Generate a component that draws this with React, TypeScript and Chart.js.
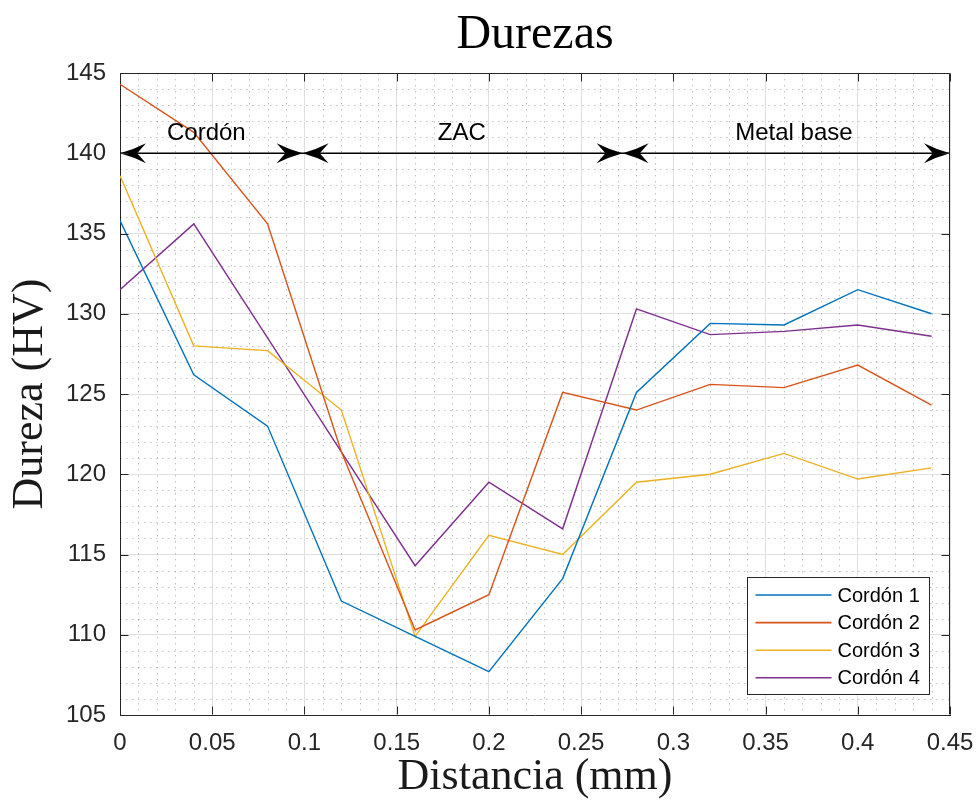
import React, { useEffect, useRef } from "react";
import { Chart, registerables } from "chart.js";

Chart.register(...registerables);

// ---- data ----
const distancia = [0, 0.04, 0.08, 0.12, 0.16, 0.2, 0.24, 0.28, 0.32, 0.36, 0.4, 0.44];
const cordon1 = [135.8, 126.2, 123.0, 112.1, 109.9, 107.7, 113.5, 125.1, 129.4, 129.3, 131.5, 130.0];
const cordon2 = [144.3, 141.3, 135.6, 121.4, 110.3, 112.5, 125.1, 124.0, 125.6, 125.4, 126.8, 124.3];
const cordon3 = [138.6, 128.0, 127.7, 124.0, 109.9, 116.2, 115.0, 119.5, 120.0, 121.3, 119.7, 120.4];
const cordon4 = [131.5, 135.6, 128.5, 121.4, 114.3, 119.5, 116.6, 130.3, 128.7, 128.9, 129.3, 128.6];
const seriesLabels = ["Cordón 1", "Cordón 2", "Cordón 3", "Cordón 4"];
const seriesColors = ["#0072BD", "#D95319", "#EDB120", "#7E2F8E"];

// zone annotation (data units)
const zoneLabels = ["Cordón", "ZAC", "Metal base"];
const zoneLabelX = [0.0468, 0.1853, 0.3654];
const zoneLabelY = 140.85;
const zoneBounds = [0, 0.099, 0.2725, 0.45];
const zoneArrowY = 140;

const titleText = "Durezas";
const xTitle = "Distancia (mm)";
const yTitle = "Dureza (HV)";

const SANS = "'Liberation Sans', Arial, Helvetica, sans-serif";
const SERIF = "'Liberation Serif', 'Times New Roman', serif";
const AXIS = "#262626";

function drawHead(ctx: CanvasRenderingContext2D, tx: number, ty: number, dir: number) {
  const L = 26;
  const W = 10;
  ctx.beginPath();
  ctx.moveTo(tx, ty);
  ctx.quadraticCurveTo(tx - dir * L * 0.5, ty - W * 0.35, tx - dir * L, ty - W);
  ctx.lineTo(tx - dir * L * 0.66, ty);
  ctx.lineTo(tx - dir * L, ty + W);
  ctx.quadraticCurveTo(tx - dir * L * 0.5, ty + W * 0.35, tx, ty);
  ctx.closePath();
  ctx.fill();
}

const decorPlugin = {
  id: "decor",
  beforeDatasetsDraw(chart: any) {
    const { ctx, chartArea: a, scales } = chart;
    const x = scales.x;
    const y = scales.y;
    ctx.save();
    ctx.beginPath();
    ctx.rect(a.left, a.top, a.right - a.left, a.bottom - a.top);
    ctx.clip();
    ctx.strokeStyle = "rgba(0,0,0,0.24)";
    ctx.lineWidth = 1;
    ctx.setLineDash([1.5, 4.5]);
    for (let i = 1; i < 45; i++) {
      if (i % 5 === 0) continue;
      const px = Math.round(x.getPixelForValue(i / 100)) + 0.5;
      ctx.beginPath();
      ctx.moveTo(px, a.top);
      ctx.lineTo(px, a.bottom);
      ctx.stroke();
    }
    for (let v = 106; v < 145; v++) {
      if (v % 5 === 0) continue;
      const py = Math.round(y.getPixelForValue(v)) + 0.5;
      ctx.beginPath();
      ctx.moveTo(a.left, py);
      ctx.lineTo(a.right, py);
      ctx.stroke();
    }
    ctx.restore();
  },
  afterDatasetsDraw(chart: any) {
    const { ctx, chartArea: a, scales } = chart;
    const x = scales.x;
    const y = scales.y;
    ctx.save();

    // zone arrows
    const ay = y.getPixelForValue(zoneArrowY);
    ctx.strokeStyle = "#000";
    ctx.fillStyle = "#000";
    ctx.lineWidth = 1.5;
    ctx.beginPath();
    ctx.moveTo(x.getPixelForValue(zoneBounds[0]), ay);
    ctx.lineTo(x.getPixelForValue(zoneBounds[zoneBounds.length - 1]), ay);
    ctx.stroke();
    for (let i = 0; i < zoneBounds.length - 1; i++) {
      const p0 = x.getPixelForValue(zoneBounds[i]);
      const p1 = x.getPixelForValue(zoneBounds[i + 1]);
      drawHead(ctx, p0, ay, -1);
      drawHead(ctx, p1, ay, 1);
    }
    ctx.font = `24px ${SANS}`;
    ctx.textAlign = "center";
    ctx.textBaseline = "alphabetic";
    ctx.fillStyle = "#000";
    zoneLabels.forEach((t, i) => {
      ctx.fillText(t, x.getPixelForValue(zoneLabelX[i]), y.getPixelForValue(zoneLabelY));
    });

    // box top/right
    ctx.strokeStyle = AXIS;
    ctx.lineWidth = 1;
    const L = Math.round(a.left) + 0.5;
    const R = Math.round(a.right) - 0.5;
    const T = Math.round(a.top) + 0.5;
    const B = Math.round(a.bottom) - 0.5;
    ctx.beginPath();
    ctx.moveTo(L, T);
    ctx.lineTo(R, T);
    ctx.lineTo(R, B);
    ctx.stroke();

    // inward ticks
    const tl = 8;
    ctx.beginPath();
    x.ticks.forEach((t: any) => {
      const px = Math.round(x.getPixelForValue(t.value)) + 0.5;
      ctx.moveTo(px, B);
      ctx.lineTo(px, B - tl);
      ctx.moveTo(px, T);
      ctx.lineTo(px, T + tl);
    });
    y.ticks.forEach((t: any) => {
      const py = Math.round(y.getPixelForValue(t.value)) + 0.5;
      ctx.moveTo(L, py);
      ctx.lineTo(L + tl, py);
      ctx.moveTo(R, py);
      ctx.lineTo(R - tl, py);
    });
    ctx.stroke();

    // legend
    const lw = 182;
    const lh = 117;
    const lx = Math.round(a.right - 21 - lw) + 0.5;
    const ly = Math.round(a.bottom - 21 - lh) + 0.5;
    ctx.fillStyle = "#fff";
    ctx.fillRect(lx, ly, lw, lh);
    ctx.strokeStyle = AXIS;
    ctx.lineWidth = 1;
    ctx.strokeRect(lx, ly, lw, lh);
    ctx.font = `20px ${SANS}`;
    ctx.textAlign = "left";
    ctx.textBaseline = "middle";
    chart.data.datasets.forEach((ds: any, i: number) => {
      const ry = ly + 17.5 + i * 27.6;
      ctx.strokeStyle = ds.borderColor;
      ctx.lineWidth = 1.6;
      ctx.beginPath();
      ctx.moveTo(lx + 8, ry);
      ctx.lineTo(lx + 84, ry);
      ctx.stroke();
      ctx.fillStyle = "#000";
      ctx.fillText(ds.label, lx + 90, ry + 1);
    });

    // title
    ctx.fillStyle = "#000";
    ctx.font = `48px ${SERIF}`;
    ctx.textAlign = "center";
    ctx.textBaseline = "alphabetic";
    ctx.fillText(titleText, (a.left + a.right) / 2, 48);

    ctx.restore();
  },
};

const fmt = (v: number) => String(Math.round(v * 1000) / 1000);

export default function App() {
  const ref = useRef<HTMLCanvasElement | null>(null);
  useEffect(() => {
    if (!ref.current) return;
    const series = [cordon1, cordon2, cordon3, cordon4];
    const chart = new Chart(ref.current, {
      type: "line",
      data: {
        datasets: series.map((s, i) => ({
          label: seriesLabels[i],
          data: distancia.map((d, j) => ({ x: d, y: s[j] })),
          borderColor: seriesColors[i],
          backgroundColor: seriesColors[i],
          borderWidth: 1.4,
          pointRadius: 0,
          tension: 0,
          fill: false,
        })),
      },
      options: {
        responsive: false,
        animation: false,
        devicePixelRatio: 1,
        layout: { padding: { top: 73, right: 26, left: 0, bottom: 0 } },
        plugins: {
          legend: { display: false },
          title: { display: false },
          tooltip: { enabled: false },
        },
        scales: {
          x: {
            type: "linear",
            min: 0,
            max: 0.45,
            afterFit(s: any) {
              s.height = 86;
              s.paddingLeft = 0;
              s.paddingRight = 0;
            },
            ticks: {
              stepSize: 0.05,
              padding: 14,
              color: AXIS,
              maxRotation: 0,
              autoSkip: false,
              font: { family: SANS, size: 24 },
              callback: (v: any) => fmt(Number(v)),
            },
            grid: { color: "#e0e0e0", drawTicks: false, lineWidth: 1 },
            border: { display: true, color: AXIS, width: 1 },
            title: {
              display: true,
              text: xTitle,
              color: "#1a1a1a",
              font: { family: SERIF, size: 44, lineHeight: 1 },
              padding: { top: 0, bottom: 2 },
            },
          },
          y: {
            type: "linear",
            min: 105,
            max: 145,
            afterFit(s: any) {
              s.width = 120;
              s.paddingTop = 0;
              s.paddingBottom = 0;
            },
            ticks: {
              stepSize: 5,
              padding: 14,
              color: AXIS,
              font: { family: SANS, size: 24 },
              callback: (v: any) => fmt(Number(v)),
            },
            grid: { color: "#e0e0e0", drawTicks: false, lineWidth: 1 },
            border: { display: true, color: AXIS, width: 1 },
            title: {
              display: true,
              text: yTitle,
              color: "#1a1a1a",
              font: { family: SERIF, size: 44, lineHeight: 1 },
              padding: { top: 8, bottom: 0 },
            },
          },
        },
      } as any,
      plugins: [decorPlugin as any],
    });
    return () => chart.destroy();
  }, []);
  return (
    <div style={{ position: "absolute", left: 0, top: 0, width: 976, height: 801, background: "#fff" }}>
      <canvas ref={ref} width={976} height={801} style={{ display: "block" }} />
    </div>
  );
}
